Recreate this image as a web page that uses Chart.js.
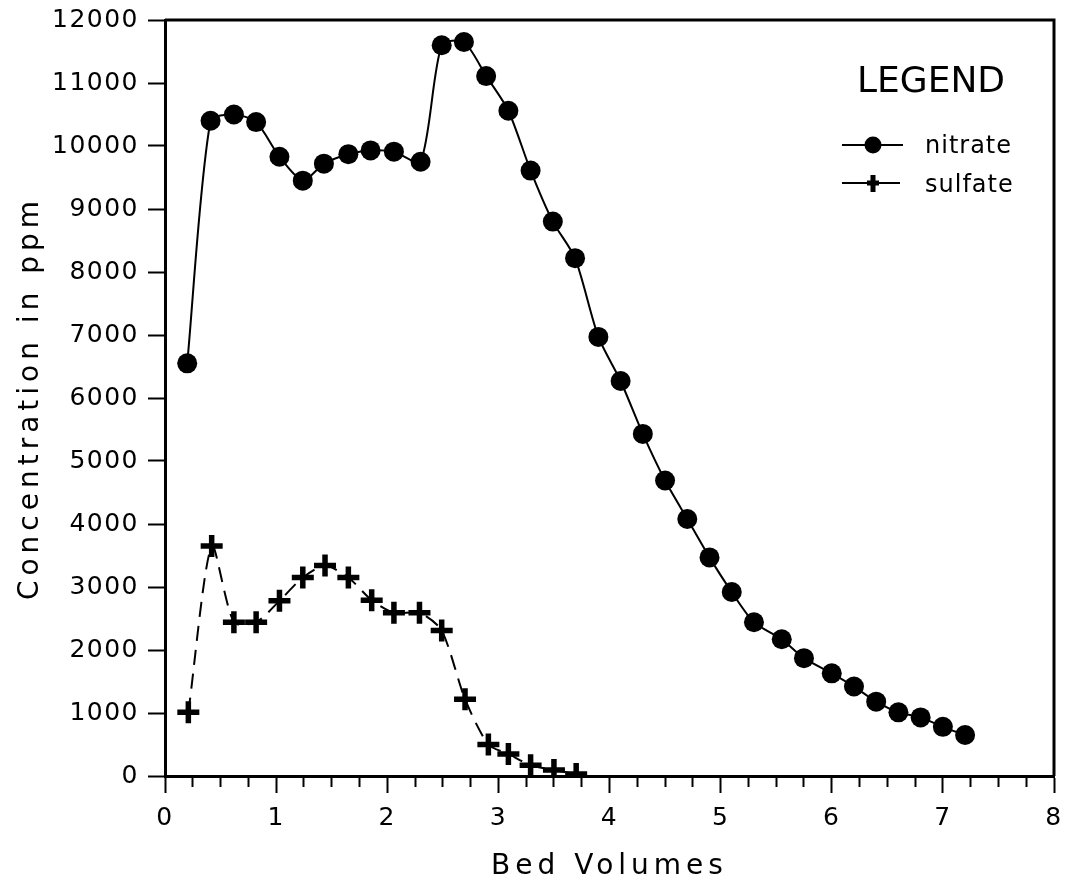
<!DOCTYPE html>
<html>
<head>
<meta charset="utf-8">
<script src="https://cdn.jsdelivr.net/npm/chart.js@4/dist/chart.umd.min.js"></script>
<style>
html,body{margin:0;padding:0;background:#fff;}
#wrap{width:1065px;height:884px;position:relative;}
</style>
</head>
<body>
<div id="wrap"><canvas id="c" width="1065" height="884"></canvas></div>
<script>
// ---- data ----
const nitrateX = [0.20,0.41,0.62,0.82,1.03,1.24,1.43,1.65,1.85,2.06,2.30,2.49,2.69,2.89,3.09,3.29,3.49,3.69,3.90,4.10,4.30,4.50,4.70,4.90,5.10,5.30,5.55,5.75,6.00,6.20,6.40,6.60,6.80,7.00,7.20];
const nitrateY = [6550,10400,10500,10380,9830,9450,9720,9870,9930,9910,9750,11600,11650,11110,10560,9610,8800,8220,6970,6270,5430,4690,4080,3470,2920,2440,2170,1870,1630,1420,1180,1010,930,780,650];
const sulfateX = [0.21,0.42,0.62,0.82,1.03,1.24,1.44,1.65,1.86,2.06,2.29,2.49,2.70,2.91,3.09,3.29,3.50,3.70];
const sulfateY = [1010,3650,2440,2440,2780,3150,3340,3150,2790,2590,2590,2310,1220,500,350,170,95,30];
const xTickLabels = ['0','1','2','3','4','5','6','7','8'];
const yTickLabels = ['0','1000','2000','3000','4000','5000','6000','7000','8000','9000','10000','11000','12000'];
const seriesNames = ['nitrate','sulfate'];
const legendTitle = 'LEGEND';

const FONT = '"DejaVu Sans", Verdana, sans-serif';

function toPoints(xs, ys){ return xs.map((x,i)=>({x:x, y:ys[i]})); }

// x ticks: majors from labels, minors every quarter
const xTickValues = [];
for (let i = 0; i < xTickLabels.length - 1; i++) {
  for (let q = 0; q < 4; q++) xTickValues.push(Number(xTickLabels[i]) + q * 0.25);
}
xTickValues.push(Number(xTickLabels[xTickLabels.length - 1]));

const spacingPlugin = {
  id: 'spacing',
  beforeDraw(chart){ if ('letterSpacing' in chart.ctx) chart.ctx.letterSpacing = '5px'; },
  afterDatasetsDraw(chart){ if ('letterSpacing' in chart.ctx) chart.ctx.letterSpacing = '1.5px'; },
  afterDraw(chart){
    const ctx = chart.ctx;
    const a = chart.chartArea;
    if ('letterSpacing' in ctx) ctx.letterSpacing = '0px';
    ctx.save();
    // frame top + right
    ctx.strokeStyle = '#000';
    ctx.lineWidth = 3;
    ctx.beginPath();
    ctx.moveTo(a.left, a.top);
    ctx.lineTo(a.right, a.top);
    ctx.lineTo(a.right, a.bottom);
    ctx.stroke();

    // legend
    const cx = a.right - 123;
    ctx.fillStyle = '#000';
    ctx.textAlign = 'center';
    ctx.textBaseline = 'alphabetic';
    ctx.font = '36px ' + FONT;
    ctx.fillText(legendTitle, cx, 92);

    const lx0 = a.right - 212, lx1 = a.right - 151, mx = a.right - 181;
    const tx = a.right - 129;
    // nitrate entry
    ctx.lineWidth = 2;
    ctx.beginPath(); ctx.moveTo(lx0, 145); ctx.lineTo(lx1, 145); ctx.stroke();
    ctx.beginPath(); ctx.arc(mx, 145, 8.5, 0, Math.PI*2); ctx.fill();
    // sulfate entry
    ctx.beginPath(); ctx.moveTo(lx0, 183); ctx.lineTo(lx1 - 3, 183); ctx.stroke();
    ctx.lineWidth = 5;
    ctx.beginPath(); ctx.moveTo(mx - 6, 183); ctx.lineTo(mx + 6, 183);
    ctx.moveTo(mx, 175); ctx.lineTo(mx, 192); ctx.stroke();

    ctx.textAlign = 'left';
    ctx.font = '24px ' + FONT;
    if ('letterSpacing' in ctx) ctx.letterSpacing = '1px';
    ctx.fillText(seriesNames[0], tx, 153);
    ctx.fillText(seriesNames[1], tx, 192);
    if ('letterSpacing' in ctx) ctx.letterSpacing = '0px';
    ctx.restore();
  }
};

new Chart(document.getElementById('c'), {
  type: 'line',
  data: {
    datasets: [
      {
        label: seriesNames[0],
        data: toPoints(nitrateX, nitrateY),
        borderColor: '#000',
        borderWidth: 2,
        tension: 0.25,
        fill: false,
        pointStyle: 'circle',
        pointRadius: 10,
        pointBackgroundColor: '#000',
        pointBorderColor: '#000',
        pointBorderWidth: 0
      },
      {
        label: seriesNames[1],
        data: toPoints(sulfateX, sulfateY),
        borderColor: '#000',
        borderWidth: 2,
        borderDash: [15, 9],
        tension: 0.25,
        fill: false,
        pointStyle: 'cross',
        pointRadius: 11,
        pointBorderColor: '#000',
        pointBorderWidth: 5.5
      }
    ]
  },
  options: {
    responsive: false,
    animation: false,
    devicePixelRatio: 1,
    layout: { autoPadding: false, padding: { top: 20, right: 11, left: 0, bottom: 0 } },
    plugins: { legend: { display: false }, tooltip: { enabled: false } },
    scales: {
      x: {
        type: 'linear',
        min: 0, max: 8,
        afterBuildTicks: s => { s.ticks = xTickValues.map(v => ({ value: v })); },
        afterFit: s => { s.height = 108; s.paddingLeft = 0; s.paddingRight = 0; },
        ticks: {
          autoSkip: false, maxRotation: 0, padding: 10, color: '#000', z: 1,
          font: { family: FONT, size: 25 },
          callback: v => (Number.isInteger(v) ? xTickLabels[v] : '')
        },
        grid: {
          drawOnChartArea: false, drawTicks: true, tickLength: 17,
          tickColor: '#000', tickWidth: 2,
          tickBorderDash: c => (c.tick && !Number.isInteger(c.tick.value)) ? [9, 60] : []
        },
        border: { color: '#000', width: 3 },
        title: {
          display: true, text: 'Bed Volumes', color: '#000',
          font: { family: FONT, size: 28 }, padding: { top: 0, bottom: 0 }
        }
      },
      y: {
        type: 'linear',
        min: 0, max: 12000,
        afterBuildTicks: s => { s.ticks = yTickLabels.map(t => ({ value: Number(t) })); },
        afterFit: s => { s.width = 165; s.paddingTop = 0; s.paddingBottom = 0; },
        ticks: {
          autoSkip: false, padding: 9, color: '#000', z: 1,
          font: { family: FONT, size: 25 },
          callback: v => yTickLabels[yTickLabels.indexOf(String(v))]
        },
        grid: {
          drawOnChartArea: false, drawTicks: true, tickLength: 17,
          tickColor: '#000', tickWidth: 2
        },
        border: { color: '#000', width: 3 },
        title: {
          display: true, text: 'Concentration in ppm', color: '#000',
          font: { family: FONT, size: 28 }, padding: { top: 14, bottom: 0 }
        }
      }
    }
  },
  plugins: [spacingPlugin]
});
</script>
</body>
</html>
